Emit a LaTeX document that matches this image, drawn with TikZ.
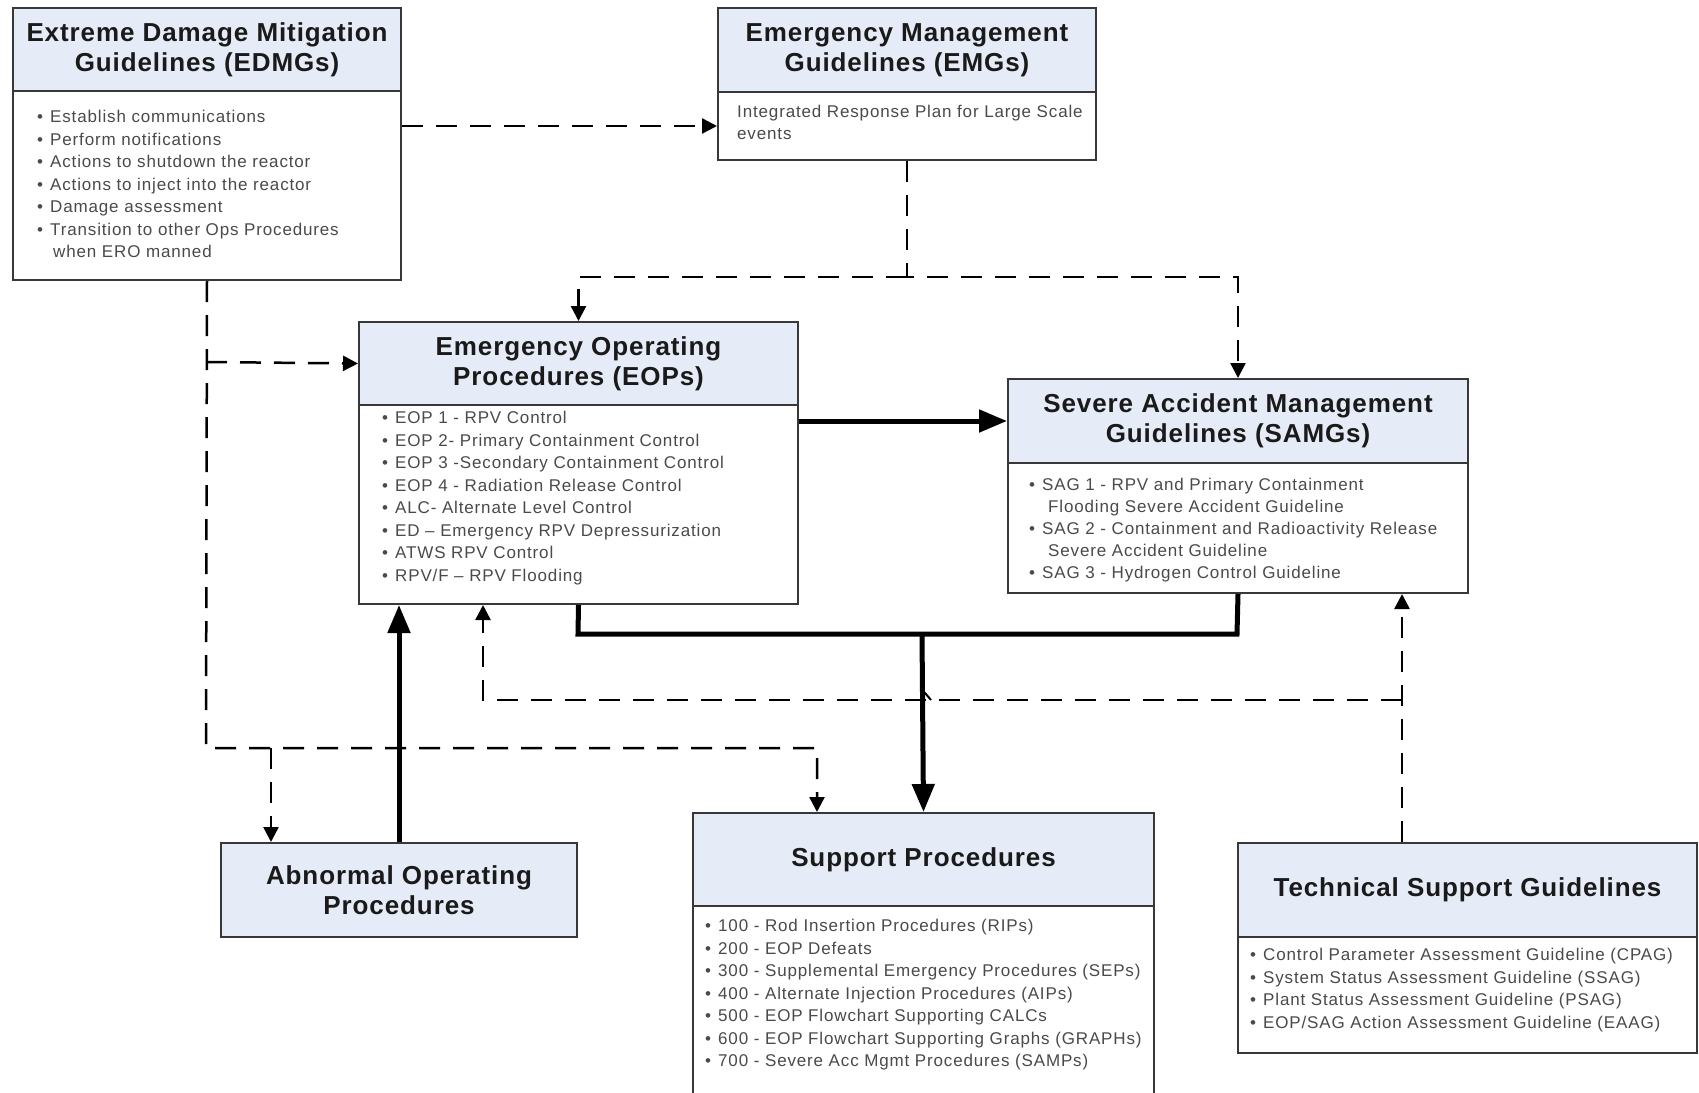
\documentclass[tikz,border=0pt]{standalone}
\usepackage{fontspec}
\setmainfont{Liberation Sans}
\usetikzlibrary{arrows.meta}

\definecolor{hdrfill}{HTML}{E6ECF7}
\definecolor{edgegray}{HTML}{383838}
\definecolor{bodytext}{HTML}{4A4A4A}
\definecolor{titletext}{HTML}{1A1A1A}

% bullet item and indented continuation line
\newcommand\bul[1]{\makebox[13pt][l]{\textbullet}#1}
\newcommand\bulc[2][16pt]{\hspace*{#1}#2}

\tikzset{
  hdr/.style={draw=edgegray, line width=2pt, fill=hdrfill, anchor=north west,
    inner sep=0pt, align=center, text=titletext,
    font=\fontsize{26}{30}\selectfont\bfseries\addfontfeature{LetterSpace=3.5}},
  bodybox/.style={draw=edgegray, line width=2pt, fill=white, anchor=north west, inner sep=0pt},
  bodytxt/.style={anchor=north west, inner sep=0pt, align=left, text=bodytext,
    font=\fontsize{17}{22.5}\selectfont\addfontfeature{LetterSpace=5}},
  link/.style={line width=2.5pt, dash pattern=on 21pt off 13pt,
    -{Triangle[length=15pt,width=15pt]}},
  flow/.style={line width=5pt, -{Triangle[length=28pt,width=22pt]}},
  flowplain/.style={line width=5pt},
}

\begin{document}
\begin{tikzpicture}[x=1pt, y=-1pt]
\clip (0,0) rectangle (1699,1092);
\fill[white] (0,0) rectangle (1699,1092);

% ---- Extreme Damage Mitigation Guidelines
\node[bodybox, minimum width=388pt, minimum height=189pt] (edmgB) at (12,90) {};
\node[hdr, minimum width=388pt, minimum height=83pt] (edmgH) at (12,7)
  {Extreme Damage Mitigation\\Guidelines (EDMGs)};
\node[bodytxt] (edmgT) at (37,106.75) {\strut\bul{Establish communications}\\
  \bul{Perform notifications}\\
  \bul{Actions to shutdown the reactor}\\
  \bul{Actions to inject into the reactor}\\
  \bul{Damage assessment}\\
  \bul{Transition to other Ops Procedures}\\
  \bulc{when ERO manned}};

% ---- Emergency Management Guidelines
\node[bodybox, minimum width=378pt, minimum height=68pt] (emgB) at (717,91) {};
\node[hdr, minimum width=378pt, minimum height=84pt] (emgH) at (717,7)
  {Emergency Management\\Guidelines (EMGs)};
\node[bodytxt, font=\fontsize{17}{22}\selectfont\addfontfeature{LetterSpace=5}] (emgT) at (737,101.75)
  {\strut Integrated Response Plan for Large Scale\\events};

% ---- Emergency Operating Procedures
\node[bodybox, minimum width=439pt, minimum height=199pt] (eopB) at (358,404) {};
\node[hdr, minimum width=439pt, minimum height=83pt] (eopH) at (358,321)
  {Emergency Operating\\Procedures (EOPs)};
\node[bodytxt] (eopT) at (382,407.75) {\strut\bul{EOP 1 - RPV Control}\\
  \bul{EOP 2- Primary Containment Control}\\
  \bul{EOP 3 -Secondary Containment Control}\\
  \bul{EOP 4 - Radiation Release Control}\\
  \bul{ALC- Alternate Level Control}\\
  \bul{ED -- Emergency RPV Depressurization}\\
  \bul{ATWS RPV Control}\\
  \bul{RPV/F -- RPV Flooding}};

% ---- Severe Accident Management Guidelines
\node[bodybox, minimum width=460pt, minimum height=130pt] (samgB) at (1007,462) {};
\node[hdr, minimum width=460pt, minimum height=84pt] (samgH) at (1007,378)
  {Severe Accident Management\\Guidelines (SAMGs)};
\node[bodytxt, font=\fontsize{17}{22}\selectfont\addfontfeature{LetterSpace=5}] (samgT) at (1029,474.75)
  {\strut\bul{SAG 1 - RPV and Primary Containment}\\
  \bulc[19pt]{Flooding Severe Accident Guideline}\\
  \bul{SAG 2 - Containment and Radioactivity Release}\\
  \bulc[19pt]{Severe Accident Guideline}\\
  \bul{SAG 3 - Hydrogen Control Guideline}};

% ---- Abnormal Operating Procedures
\node[hdr, minimum width=356pt, minimum height=94pt] (aop) at (220,842)
  {Abnormal Operating\\Procedures};

% ---- Support Procedures
\node[bodybox, minimum width=461pt, minimum height=200pt] (supB) at (692,905) {};
\node[hdr, minimum width=461pt, minimum height=93pt] (supH) at (692,812)
  {Support Procedures};
\node[bodytxt] (supT) at (705,915.75) {\strut\bul{100 - Rod Insertion Procedures (RIPs)}\\
  \bul{200 - EOP Defeats}\\
  \bul{300 - Supplemental Emergency Procedures (SEPs)}\\
  \bul{400 - Alternate Injection Procedures (AIPs)}\\
  \bul{500 - EOP Flowchart Supporting CALCs}\\
  \bul{600 - EOP Flowchart Supporting Graphs (GRAPHs)}\\
  \bul{700 - Severe Acc Mgmt Procedures (SAMPs)}};

% ---- Technical Support Guidelines
\node[bodybox, minimum width=459pt, minimum height=116pt] (tsgB) at (1237,936) {};
\node[hdr, minimum width=459pt, minimum height=94pt] (tsgH) at (1237,842)
  {Technical Support Guidelines};
\node[bodytxt] (tsgT) at (1250,944.75) {\strut\bul{Control Parameter Assessment Guideline (CPAG)}\\
  \bul{System Status Assessment Guideline (SSAG)}\\
  \bul{Plant Status Assessment Guideline (PSAG)}\\
  \bul{EOP/SAG Action Assessment Guideline (EAAG)}};

% ---- junction points of the dashed links
\coordinate (emgSplit) at (907,277);
\coordinate (edmgTap) at (206,362);
\coordinate (edmgLow) at (206,748);
\coordinate (aopTap) at (271,748);
\coordinate (supTop) at (817,812);
\coordinate (tsgTop) at (1402,842);
\coordinate (tsgTap) at (1402,700);
\coordinate (eopTap) at (483,700);
\coordinate (eopRun) at (578,634);
\coordinate (samgRun) at (1237,634);
\coordinate (supRun) at (922,634);

% ---- dashed links
\draw[link] (edmgB.east |- emgB.west) -- (emgB.west);
\draw[link] (emgB.south) -- (emgSplit) -| (samgH.north);
\draw[link] (emgSplit) -| (eopH.north);
\draw[link] (edmgB.south) -- (edmgLow) -| (supTop);
\draw[link] (edmgTap) -- (eopH.west);
\draw[link] (aopTap) -- (aopTap |- aop.north);
\draw[link] (tsgTop) -- (tsgTop |- samgB.south);
\draw[link] (tsgTap) -- (eopTap |- tsgTap) -- (eopTap |- eopB.south);
% line jump where the dashed link crosses the heavy line
\draw[line width=2pt] (931,700) -- (925,693) -- (920,693);

% ---- heavy flow lines
\draw[flow] (aop.north) -- (aop.north |- eopB.south);
\draw[flow] (eopB.east |- samgH.west) -- (samgH.west);
\draw[flowplain, line join=miter] (eopB.south) -- (eopRun) -- (samgRun) -- (samgB.south);
\draw[flow] (supRun) -- (supH.north);
\end{tikzpicture}
\end{document}
